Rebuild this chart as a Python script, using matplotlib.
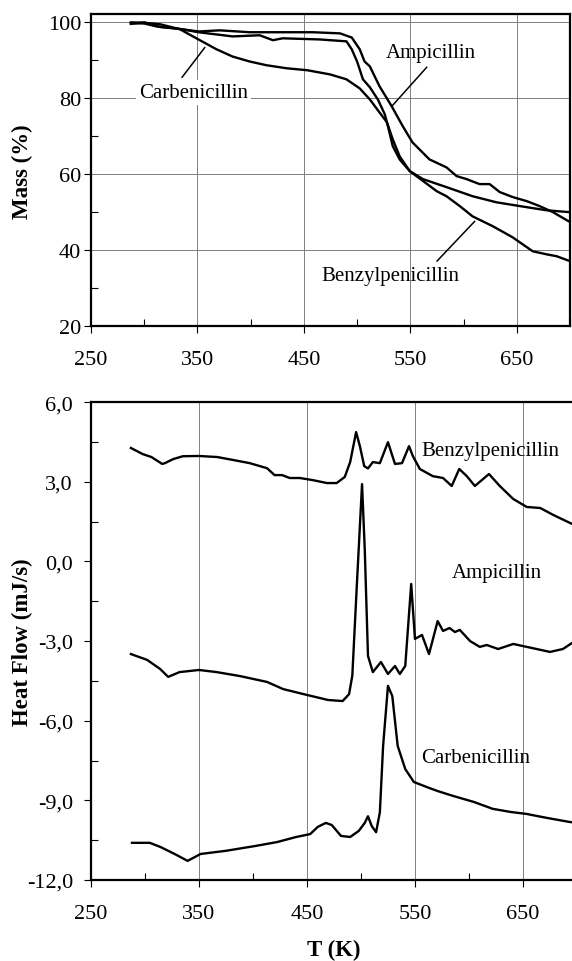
import matplotlib
matplotlib.use("Agg")
import matplotlib.pyplot as plt
from matplotlib.ticker import MultipleLocator, FuncFormatter

plt.rcParams['font.family'] = ['Liberation Serif', 'DejaVu Serif']

# ---- TGA data (mass %) ----
carb_T = [287.5, 300, 315, 333.5, 351, 368, 383, 399, 415, 434, 453, 474.5, 490, 502.5,
          512, 521, 528, 533.5, 540, 549.5, 562, 584, 608.5, 631, 653, 678, 700]
carb_m = [100, 99.9, 99.5, 98.2, 95.5, 92.9, 91, 89.7, 88.7, 87.9, 87.4, 86.3, 85, 82.6,
          79.7, 76.3, 73.7, 69.2, 64.7, 60.8, 58.7, 56.6, 54.2, 52.6, 51.6, 50.5, 50]

amp_T = [287.5, 300, 315, 330, 351, 371, 399, 427.5, 458.5, 484, 495, 502.5, 507, 512, 521,
         532.5, 543, 552, 568, 584, 593.5, 603, 615, 624.5, 634, 646, 659.5, 671.5, 684, 700]
amp_m = [99.6, 100, 98.8, 98.4, 97.6, 97.9, 97.4, 97.4, 97.4, 97.1, 96, 92.9, 89.7, 88.4, 83.2,
         77.9, 72.6, 68.4, 63.9, 61.8, 59.5, 58.7, 57.4, 57.4, 55.3, 54, 52.9, 51.6, 50, 47.4]

benz_T = [287.5, 300, 312, 322, 335, 351, 383, 408.5, 421, 430, 465, 490, 495, 500, 505.5,
          512, 519.5, 526, 529, 533.5, 540, 549.5, 562, 575, 584, 596.5, 608.5, 627.5, 646,
          665, 678, 687.5, 700]
benz_m = [99.8, 99.7, 98.9, 98.6, 98.2, 97.4, 96.3, 96.6, 95.3, 95.8, 95.5, 95, 92.9, 89.7, 85,
          82.9, 79.7, 75.8, 72.6, 67.4, 63.9, 60.8, 58.2, 55.5, 54.2, 51.6, 48.9, 46.3, 43.4,
          39.7, 38.9, 38.4, 37.1]

# ---- DSC data (heat flow, mJ/s) ----
dsc_benz_T = [287, 298, 306, 316, 318.5, 326, 335, 350, 367, 381.5, 397, 413, 420, 427, 434,
              443.5, 455.5, 468.5, 477.5, 485, 490, 495.5, 499, 503, 506.5, 511, 517.5, 525,
              531.5, 538, 544.5, 548, 554.5, 566.5, 576, 584, 591, 598, 605.5, 618.5, 628.5,
              641, 653.5, 666, 678, 695.5, 700]
dsc_benz_h = [4.27, 4.04, 3.93, 3.67, 3.70, 3.85, 3.96, 3.97, 3.93, 3.82, 3.70, 3.51, 3.25, 3.25,
              3.14, 3.14, 3.06, 2.95, 2.95, 3.18, 3.74, 4.87, 4.34, 3.59, 3.50, 3.74, 3.70, 4.49,
              3.67, 3.70, 4.34, 3.97, 3.48, 3.21, 3.14, 2.84, 3.48, 3.21, 2.84, 3.29, 2.84,
              2.35, 2.05, 2.01, 1.75, 1.41, 1.35]

dsc_amp_T = [287, 302, 314, 321.5, 332, 350, 366.5, 388, 413, 428, 450, 469.5, 483, 489, 492,
             496, 501, 503.5, 506.5, 511, 518.5, 525, 531.5, 536, 541, 546.5, 550, 556.5,
             563, 571, 576, 582, 587, 591.5, 601, 610, 616.5, 627, 641, 653.5, 675, 687, 695.5, 700]
dsc_amp_h = [-3.49, -3.71, -4.05, -4.35, -4.17, -4.09, -4.17, -4.32, -4.54, -4.81, -5.03, -5.22,
             -5.26, -5.0, -4.3, -1.04, 2.91, 0.47, -3.56, -4.17, -3.79, -4.24, -3.94, -4.24,
             -3.94, -0.85, -2.92, -2.77, -3.49, -2.25, -2.62, -2.51, -2.66, -2.58, -3.0, -3.22,
             -3.15, -3.30, -3.11, -3.22, -3.41, -3.30, -3.07, -2.95]

dsc_carb_T = [288, 304.5, 314.5, 327.5, 339.5, 351.5, 375, 402, 422.5, 440, 453, 460, 467.5,
              473, 481.5, 490, 498, 503.5, 506.5, 510, 514, 517.5, 520.5, 525, 529, 534, 541,
              549, 561, 571, 585, 604.5, 622, 639, 653, 672, 692.5, 700]
dsc_carb_h = [-10.6, -10.6, -10.76, -11.02, -11.28, -11.02, -10.9, -10.72, -10.57, -10.38,
              -10.27, -10.0, -9.85, -9.93, -10.34, -10.38, -10.15, -9.85, -9.6, -9.97, -10.2,
              -9.45, -6.95, -4.69, -5.07, -6.95, -7.82, -8.31, -8.5, -8.65, -8.83, -9.06,
              -9.32, -9.44, -9.51, -9.66, -9.81, -9.85]

x_ticks = [250, 350, 450, 550, 650]
mass_ticks = [20, 40, 60, 80, 100]
heat_ticks = [-12, -9, -6, -3, 0, 3, 6]

fig = plt.figure(figsize=(5.72, 9.62), dpi=100)
ax1 = fig.add_axes([0.159, 0.660, 0.8375, 0.324])
ax2 = fig.add_axes([0.159, 0.0842, 0.8497, 0.4968])

lw = 1.7
tick_fs = 16
lab_fs = 16.5
ann_fs = 15
grid_kw = dict(color='#808080', linewidth=0.7)
line_kw = dict(arrowstyle='-', color='black', lw=1.1, shrinkA=0, shrinkB=0)


def style(ax):
    for s in ax.spines.values():
        s.set_linewidth(1.6)
    ax.xaxis.set_minor_locator(MultipleLocator(50))
    ax.tick_params(which='major', direction='out', length=5, width=0.8, labelsize=tick_fs)
    ax.tick_params(which='minor', direction='in', length=5, width=0.8)
    ax.tick_params(axis='x', which='major', pad=12)
    ax.set_xticks(x_ticks)
    ax.set_xlim(250, 700)


# ---- top: mass ----
ax1.plot(carb_T, carb_m, color='black', lw=lw)
ax1.plot(amp_T, amp_m, color='black', lw=lw)
ax1.plot(benz_T, benz_m, color='black', lw=lw)
style(ax1)
ax1.set_ylim(20, 102.1)
ax1.set_yticks(mass_ticks)
ax1.yaxis.set_minor_locator(MultipleLocator(10))
ax1.tick_params(axis='y', which='major', pad=2)
ax1.grid(True, which='major', **grid_kw)
ax1.set_axisbelow(True)
ax1.set_ylabel('Mass (%)', fontsize=lab_fs, fontweight='bold')
ax1.yaxis.set_label_coords(-0.121, 0.5)

ax1.text(346, 81.6, 'Carbenicillin', fontsize=ann_fs, ha='center', va='center',
         bbox=dict(boxstyle='square,pad=0.15', fc='white', ec='none'))
ax1.annotate('', xy=(357, 93.4), xytext=(335.5, 85.5), arrowprops=line_kw)
ax1.text(569, 92.1, 'Ampicillin', fontsize=ann_fs, ha='center', va='center')
ax1.annotate('', xy=(532.6, 77.9), xytext=(565.5, 88.2), arrowprops=line_kw)
ax1.text(531, 33.2, 'Benzylpenicillin', fontsize=ann_fs, ha='center', va='center')
ax1.annotate('', xy=(610.5, 47.6), xytext=(575, 37.1), arrowprops=line_kw)

# ---- bottom: heat flow ----
ax2.plot(dsc_benz_T, dsc_benz_h, color='black', lw=lw)
ax2.plot(dsc_amp_T, dsc_amp_h, color='black', lw=lw)
ax2.plot(dsc_carb_T, dsc_carb_h, color='black', lw=lw)
style(ax2)
ax2.set_ylim(-12, 6)
ax2.set_yticks(heat_ticks)
ax2.yaxis.set_minor_locator(MultipleLocator(1.5))
ax2.yaxis.set_major_formatter(FuncFormatter(lambda v, p: f"{v:.1f}".replace('.', ',')))
ax2.tick_params(axis='y', which='major', pad=8)
ax2.grid(True, axis='x', which='major', **grid_kw)
ax2.set_axisbelow(True)
ax2.set_ylabel('Heat Flow (mJ/s)', fontsize=lab_fs, fontweight='bold')
ax2.yaxis.set_label_coords(-0.119, 0.5)
ax2.set_xlabel('T (K)', fontsize=lab_fs, fontweight='bold', labelpad=12)

ax2.text(619.5, 4.16, 'Benzylpenicillin', fontsize=ann_fs, ha='center', va='center')
ax2.text(626, -0.40, 'Ampicillin', fontsize=ann_fs, ha='center', va='center')
ax2.text(606.5, -7.4, 'Carbenicillin', fontsize=ann_fs, ha='center', va='center')

fig.savefig('out.png', dpi=100)
